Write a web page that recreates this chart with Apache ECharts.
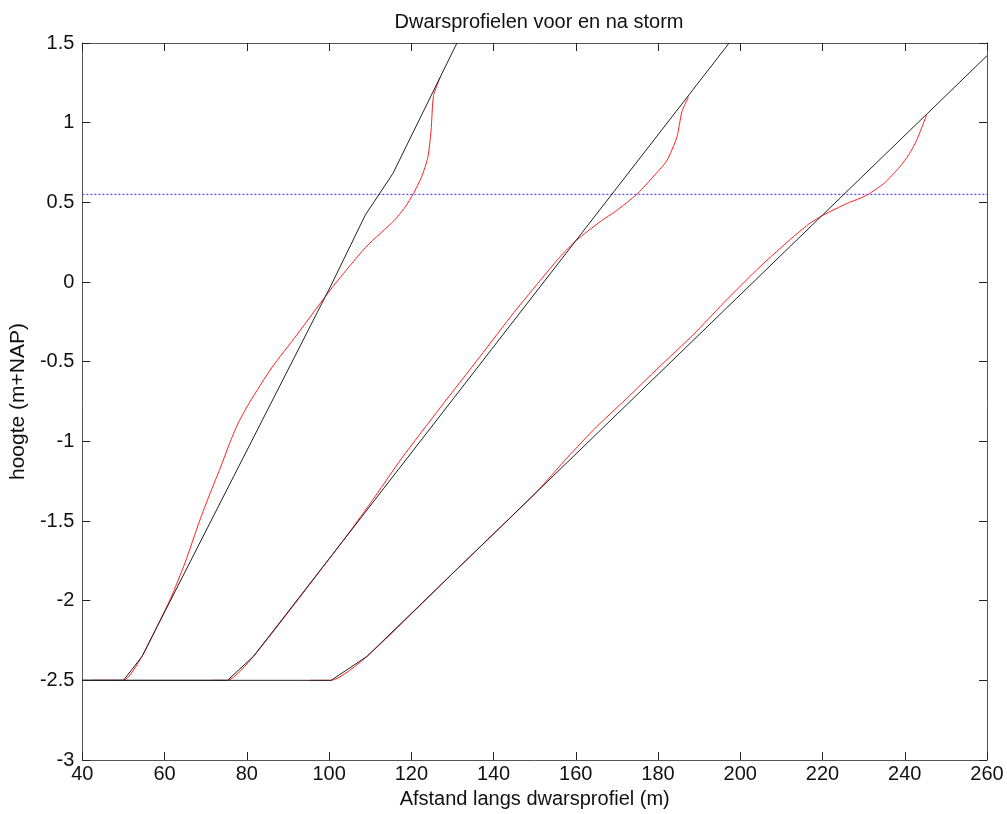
<!DOCTYPE html>
<html>
<head>
<meta charset="utf-8">
<script src="https://cdn.jsdelivr.net/npm/echarts@6/dist/echarts.min.js"></script>
<style>html,body{margin:0;padding:0;background:#fff;}#c{width:1007px;height:814px;}</style>
</head>
<body>
<div id="c"></div>
<script>
// Tick settings
const xTicks = {min: 40, max: 260, interval: 20};
const yTicks = {min: -3, max: 1.5, interval: 0.5};

// Profile before storm (black) and after storm (red), [afstand, hoogte]
const voor1 = [[40,-2.5],[50,-2.5],[54.5,-2.35],[76.8,-1.22],[100.5,-0.02],[108.8,0.42],[115.5,0.68],[131.1,1.5]];
const na1 = [[42.4,-2.5],[50,-2.5],[54.5,-2.35],[58,-2.17],[61.4,-1.99],[65,-1.76],[68.5,-1.5],[71,-1.33],[73.5,-1.17],[76,-1.0],[78,-0.88],[80.8,-0.75],[86,-0.54],[92.2,-0.33],[100.7,-0.036],[105,0.1],[109.2,0.226],[115.7,0.383],[118.5,0.47],[120.5,0.555],[122.5,0.66],[124,0.78],[124.8,0.95],[125.4,1.17],[127,1.284]];

const voor2 = [[40,-2.5],[75.3,-2.5],[81.6,-2.35],[197.3,1.5]];
const na2 = [[71.5,-2.5],[75.3,-2.5],[81.6,-2.35],[103.5,-1.62],[110,-1.39],[117.7,-1.105],[127,-0.79],[136.7,-0.468],[145,-0.19],[152,0.03],[156.2,0.159],[160.2,0.263],[165.9,0.378],[170,0.45],[174.8,0.55],[178.1,0.64],[182.1,0.76],[184.6,0.911],[185.8,1.068],[187.4,1.162]];

const voor3 = [[40,-2.5],[100.5,-2.5],[109.2,-2.35],[260,1.42]];
const na3 = [[95.4,-2.5],[100.5,-2.5],[109.2,-2.35],[130,-1.83],[150,-1.33],[158,-1.1],[165,-0.91],[172.4,-0.73],[180,-0.54],[188.6,-0.33],[196,-0.13],[204.8,0.096],[212.9,0.284],[217,0.37],[220.2,0.42],[225.9,0.493],[229.1,0.525],[231.1,0.55],[235,0.62],[238.8,0.723],[241,0.8],[242.9,0.89],[245.3,1.047]];

// Storm water level (m+NAP)
const stormpeil = 0.55;

const font = 'Liberation Sans, Arial, sans-serif';
const axisCol = '#555';
const tickStyle = {show:true,inside:true,length:8,lineStyle:{color:'#222'}};

function redSeries(d){return {type:'line',data:d,showSymbol:false,smooth:0.2,lineStyle:{color:'#ff2020',width:1},z:2,silent:true};}
function blackSeries(d){return {type:'line',data:d,showSymbol:false,smooth:false,lineStyle:{color:'#222',width:1},z:3,silent:true};}

const chart = echarts.init(document.getElementById('c'), null, {renderer:'canvas'});
chart.setOption({
  animation:false,
  backgroundColor:'#fff',
  title:{text:'Dwarsprofielen voor en na storm',left:534,top:7,textAlign:'center',textStyle:{fontFamily:font,fontSize:20,fontWeight:'normal',color:'#111'}},
  grid:{left:82,right:20,top:43,bottom:53,containLabel:false},
  xAxis:[
    {type:'value',min:xTicks.min,max:xTicks.max,interval:xTicks.interval,position:'bottom',
     name:'Afstand langs dwarsprofiel (m)',nameLocation:'middle',nameGap:29,
     nameTextStyle:{fontFamily:font,fontSize:20,color:'#111'},
     axisLine:{show:true,onZero:false,lineStyle:{color:axisCol}},axisTick:tickStyle,
     axisLabel:{fontFamily:font,fontSize:20,color:'#111',margin:4},splitLine:{show:false}},
    {type:'value',min:xTicks.min,max:xTicks.max,interval:xTicks.interval,position:'top',
     axisLine:{show:true,onZero:false,lineStyle:{color:axisCol}},axisTick:tickStyle,
     axisLabel:{show:false},splitLine:{show:false}}
  ],
  yAxis:[
    {type:'value',min:yTicks.min,max:yTicks.max,interval:yTicks.interval,position:'left',
     name:'hoogte (m+NAP)',nameLocation:'middle',nameGap:52,nameRotate:90,
     nameTextStyle:{fontFamily:font,fontSize:21,color:'#111'},
     axisLine:{show:true,onZero:false,lineStyle:{color:axisCol}},axisTick:tickStyle,
     axisLabel:{fontFamily:font,fontSize:20,color:'#111',margin:8},splitLine:{show:false}},
    {type:'value',min:yTicks.min,max:yTicks.max,interval:yTicks.interval,position:'right',
     axisLine:{show:true,onZero:false,lineStyle:{color:axisCol}},axisTick:tickStyle,
     axisLabel:{show:false},splitLine:{show:false}}
  ],
  series:[
    {type:'line',data:[[xTicks.min,stormpeil],[xTicks.max,stormpeil]],showSymbol:false,lineStyle:{color:'#4a4aff',width:1.2,type:[2,2]},z:1,silent:true},
    redSeries(na1),redSeries(na2),redSeries(na3),
    blackSeries(voor1),blackSeries(voor2),blackSeries(voor3)
  ]
});
</script>
</body>
</html>
